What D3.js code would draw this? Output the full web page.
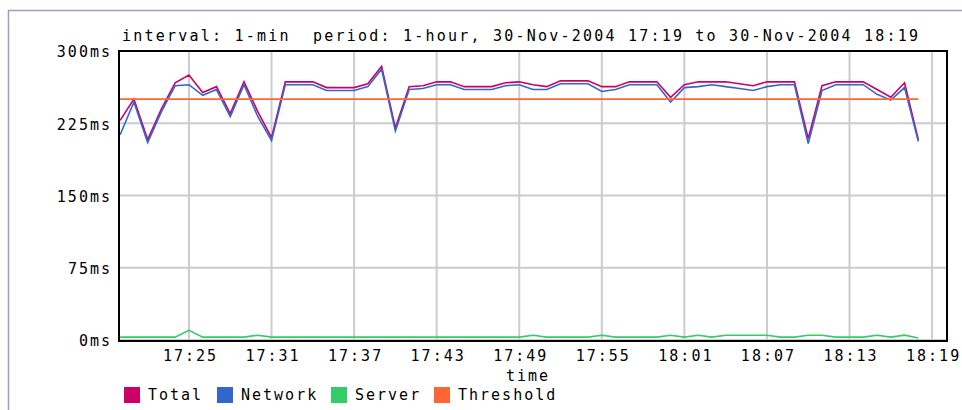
<!DOCTYPE html>
<html>
<head>
<meta charset="utf-8">
<script src="https://cdn.jsdelivr.net/npm/d3@7"></script>
<style>
  body { margin: 0; background: #fff; }
  text { font-family: "DejaVu Sans Mono", monospace; font-size: 15px; fill: #000; letter-spacing: 2px; }
  .title { white-space: pre; }
</style>
</head>
<body>
<div class="chart"></div>
<script>
// one sample per minute, 30-Nov-2004
let times = ["17:20","17:21","17:22","17:23","17:24","17:25","17:26","17:27","17:28","17:29",
  "17:30","17:31","17:32","17:33","17:34","17:35","17:36","17:37","17:38","17:39",
  "17:40","17:41","17:42","17:43","17:44","17:45","17:46","17:47","17:48","17:49",
  "17:50","17:51","17:52","17:53","17:54","17:55","17:56","17:57","17:58","17:59",
  "18:00","18:01","18:02","18:03","18:04","18:05","18:06","18:07","18:08","18:09",
  "18:10","18:11","18:12","18:13","18:14","18:15","18:16","18:17","18:18"]

let total = [228,250,208,240,267,275,257,263,235,268,
  237,210,268,268,268,262,262,262,266,284,
  220,263,264,268,268,263,263,263,267,268,
  265,263,269,269,269,263,263,268,268,268,
  252,265,268,268,268,266,264,268,268,268,
  209,264,268,268,268,260,252,267,208]

let network = [213,247,205,237,264,265,254,260,232,265,
  232,207,265,265,265,259,259,259,263,281,
  217,260,261,265,265,260,260,260,264,265,
  260,260,266,266,266,258,260,265,265,265,
  247,262,263,265,263,261,259,263,265,265,
  204,259,265,265,265,255,249,262,206]

let server = [3,3,3,3,3,10,3,3,3,3,
  5,3,3,3,3,3,3,3,3,3,
  3,3,3,3,3,3,3,3,3,3,
  5,3,3,3,3,5,3,3,3,3,
  5,3,5,3,5,5,5,5,3,3,
  5,5,3,3,3,5,3,5,2]

let threshold = 250

let xTickLabels = ["17:25","17:31","17:37","17:43","17:49","17:55","18:01","18:07","18:13","18:19"]
let yTicks = [0, 75, 150, 225, 300]

let seriesNames = ["Total", "Network", "Server", "Threshold"]
let seriesColors = ["#cc0066", "#3366cc", "#33cc66", "#ff6633"]

let W = 962, H = 410
let margin = { top: 51, right: 15, bottom: 69, left: 119 }

let parse = d3.timeParse("%Y-%m-%d %H:%M:%S")
let t = s => parse("2004-11-30 " + (s.length === 5 ? s + ":00" : s))

let svg = d3.select(".chart")
  .append("svg")
  .attr("width", W)
  .attr("height", H)

// outer frame
svg.append("path")
  .attr("d", "M8.5," + (H + 5) + "V10.5H" + (W + 5))
  .attr("fill", "none")
  .attr("stroke", "#9c9cd0")
  .attr("stroke-width", 1.5)

let x = d3.scaleTime()
  .domain([t("17:19:55"), t("18:20:05")])
  .range([margin.left, W - margin.right])

let y = d3.scaleLinear()
  .domain([0, 300])
  .range([H - margin.bottom - 1, margin.top])

// grid
svg.append("g")
  .selectAll("line")
  .data(xTickLabels)
  .enter()
  .append("line")
  .attr("x1", d => x(t(d)))
  .attr("x2", d => x(t(d)))
  .attr("y1", y(300))
  .attr("y2", y(0))
  .attr("stroke", "#cccccc")
  .attr("stroke-width", 2)

svg.append("g")
  .selectAll("line")
  .data(yTicks)
  .enter()
  .append("line")
  .attr("x1", x.range()[0])
  .attr("x2", x.range()[1])
  .attr("y1", d => y(d))
  .attr("y2", d => y(d))
  .attr("stroke", "#cccccc")
  .attr("stroke-width", 2)

// series lines
let pts = times.map((s, i) => ({ time: t(s), total: total[i], network: network[i], server: server[i] }))

let line = key => d3.line()
  .x(d => x(d.time))
  .y(d => y(d[key]))

svg.append("path")
  .datum(pts)
  .attr("d", line("server"))
  .attr("fill", "none")
  .attr("stroke", seriesColors[2])
  .attr("stroke-width", 1.6)

svg.append("path")
  .datum(pts)
  .attr("d", line("total"))
  .attr("fill", "none")
  .attr("stroke", seriesColors[0])
  .attr("stroke-width", 1.6)

svg.append("path")
  .datum(pts)
  .attr("d", line("network"))
  .attr("fill", "none")
  .attr("stroke", seriesColors[1])
  .attr("stroke-width", 1.6)

svg.append("line")
  .attr("x1", x(t(times[0])))
  .attr("x2", x(t(times[times.length - 1])))
  .attr("y1", y(threshold))
  .attr("y2", y(threshold))
  .attr("stroke", seriesColors[3])
  .attr("stroke-width", 1.8)

// plot frame
svg.append("rect")
  .attr("x", x.range()[0])
  .attr("y", y(300))
  .attr("width", x.range()[1] - x.range()[0])
  .attr("height", y(0) - y(300) + 1)
  .attr("fill", "none")
  .attr("stroke", "#000")
  .attr("stroke-width", 2)

// axes
let xAxis = d3.axisBottom(x)
  .tickValues(xTickLabels.map(t))
  .tickFormat(d3.timeFormat("%H:%M"))
  .tickSize(0)
  .tickPadding(0)

svg.append("g")
  .attr("transform", "translate(1," + (y(0) + 10) + ")")
  .call(xAxis)
  .call(g => g.select(".domain").remove())
  .selectAll("text")
  .attr("dy", "0.71em")

let yAxis = d3.axisLeft(y)
  .tickValues(yTicks)
  .tickFormat(d => d + "ms")
  .tickSize(0)
  .tickPadding(0)

svg.append("g")
  .attr("transform", "translate(" + (margin.left - 7) + ",1)")
  .call(yAxis)
  .call(g => g.select(".domain").remove())
  .selectAll("text")
  .attr("dy", "0.32em")

// d3 axes set their own font attrs on the g, drop them so the css applies
svg.selectAll("g[font-family]").attr("font-family", null).attr("font-size", null)
svg.selectAll(".tick text").attr("fill", "#000")

// title + axis label
svg.append("text")
  .attr("class", "title")
  .attr("x", 122)
  .attr("y", 41)
  .attr("textLength", 798)
  .attr("lengthAdjust", "spacing")
  .text("interval: 1-min  period: 1-hour, 30-Nov-2004 17:19 to 30-Nov-2004 18:19")

svg.append("text")
  .attr("x", 528)
  .attr("y", 381)
  .attr("text-anchor", "middle")
  .text("time")

// legend
let legendX = [124, 217, 331, 434]
let legend = svg.append("g")
  .selectAll("g")
  .data(seriesNames)
  .enter()
  .append("g")
  .attr("transform", (d, i) => "translate(" + legendX[i] + ",387)")

legend.append("rect")
  .attr("width", 16)
  .attr("height", 16)
  .attr("fill", (d, i) => seriesColors[i])

legend.append("text")
  .attr("x", 24)
  .attr("y", 13)
  .text(d => d)
</script>
</body>
</html>
